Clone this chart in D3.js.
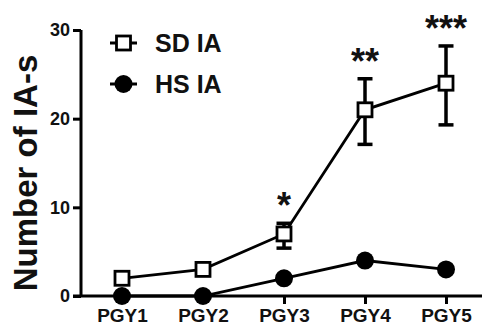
<!DOCTYPE html>
<html>
<head>
<meta charset="utf-8">
<script src="https://cdn.jsdelivr.net/npm/d3@7"></script>
<style>
  body { margin: 0; background: #fff; }
  svg text { font-family: "Liberation Sans", Arial, sans-serif; font-weight: bold; fill: #111; }
</style>
</head>
<body>
<div id="chart"></div>
<script>
// svg dimensions
let svgWidth = 482,
  svgHeight = 329;

// data
let categories = ["PGY1", "PGY2", "PGY3", "PGY4", "PGY5"];
let sdValues = [2, 3, 7, 21, 24];
let sdErrLow = [2, 3, 5.4, 17.1, 19.3];
let sdErrHigh = [2, 3, 8.2, 24.5, 28.2];
let hsValues = [0, 0, 2, 4, 3];
let stars = ["", "", "*", "**", "***"];
let yTicks = [0, 10, 20, 30];

let margin = { top: 30, right: 0, bottom: 33, left: 81 };

let svg = d3
  .select("#chart")
  .append("svg")
  .attr("width", svgWidth)
  .attr("height", svgHeight);

// scales
let xScale = d3
  .scalePoint()
  .domain(categories)
  .range([122, 446]);

let yScale = d3
  .scaleLinear()
  .domain([0, 30])
  .range([296, 30]);

// y axis
let yAxis = svg
  .append("g")
  .attr("transform", `translate(${margin.left}, 0)`)
  .call(d3.axisLeft(yScale).tickValues(yTicks).tickSize(8).tickPadding(3));
yAxis.select(".domain").attr("stroke-width", 3).attr("d", `M0,${yScale(30)}V${yScale(0)}`);
yAxis.selectAll(".tick line").attr("stroke-width", 3);
yAxis.selectAll(".tick text").style("font-size", "18px");

// x axis
let xAxis = svg
  .append("g")
  .attr("transform", `translate(0, ${yScale(0)})`)
  .call(d3.axisBottom(xScale).tickSize(8).tickPadding(5));
xAxis.select(".domain").attr("stroke-width", 3).attr("d", `M${margin.left - 8},0H${svgWidth}`);
xAxis.selectAll(".tick line").attr("stroke-width", 3);
xAxis.selectAll(".tick text").style("font-size", "19px");

// y axis label
svg
  .append("text")
  .attr("transform", `translate(37, ${(yScale(0) + yScale(30)) / 2 + 10}) rotate(-90)`)
  .attr("text-anchor", "middle")
  .style("font-size", "33px")
  .text("Number of IA-s");

let lineGen = d3
  .line()
  .x((d, i) => xScale(categories[i]))
  .y((d) => yScale(d));

// HS IA line
svg
  .append("path")
  .datum(hsValues)
  .attr("d", lineGen)
  .attr("fill", "none")
  .attr("stroke", "#000")
  .attr("stroke-width", 2.8);

// SD IA error bars
let errGroup = svg.append("g");
categories.forEach((c, i) => {
  if (sdErrHigh[i] - sdErrLow[i] < 0.5) return;
  let x = xScale(c);
  errGroup.append("line")
    .attr("x1", x).attr("x2", x)
    .attr("y1", yScale(sdErrLow[i])).attr("y2", yScale(sdErrHigh[i]))
    .attr("stroke", "#000").attr("stroke-width", 3.5);
  [sdErrLow[i], sdErrHigh[i]].forEach((v) => {
    errGroup.append("line")
      .attr("x1", x - 7.5).attr("x2", x + 7.5)
      .attr("y1", yScale(v)).attr("y2", yScale(v))
      .attr("stroke", "#000").attr("stroke-width", 3.5);
  });
});

// SD IA line
svg
  .append("path")
  .datum(sdValues)
  .attr("d", lineGen)
  .attr("fill", "none")
  .attr("stroke", "#000")
  .attr("stroke-width", 2.8);

svg
  .selectAll(".hsDot")
  .data(hsValues)
  .enter()
  .append("circle")
  .classed("hsDot", true)
  .attr("cx", (d, i) => xScale(categories[i]))
  .attr("cy", (d) => yScale(d))
  .attr("r", 9)
  .attr("fill", "#000");

svg
  .selectAll(".sdSquare")
  .data(sdValues)
  .enter()
  .append("rect")
  .classed("sdSquare", true)
  .attr("x", (d, i) => xScale(categories[i]) - 7)
  .attr("y", (d) => yScale(d) - 7)
  .attr("width", 14)
  .attr("height", 14)
  .attr("fill", "#fff")
  .attr("stroke", "#000")
  .attr("stroke-width", 2.8);

// significance stars
svg
  .selectAll(".star")
  .data(stars)
  .enter()
  .append("text")
  .classed("star", true)
  .attr("x", (d, i) => xScale(categories[i]))
  .attr("y", (d, i) => yScale(sdErrHigh[i]) - 5)
  .attr("text-anchor", "middle")
  .style("font-size", "36px")
  .text((d) => d);

// legend
let legendItems = [
  { label: "SD IA", y: 43, type: "square" },
  { label: "HS IA", y: 84, type: "circle" },
];
legendItems.forEach((item) => {
  svg.append("line")
    .attr("x1", 110).attr("x2", 137)
    .attr("y1", item.y).attr("y2", item.y)
    .attr("stroke", "#000").attr("stroke-width", 3);
  if (item.type === "square") {
    svg.append("rect")
      .attr("x", 116.5).attr("y", item.y - 7)
      .attr("width", 14).attr("height", 14)
      .attr("fill", "#fff").attr("stroke", "#000").attr("stroke-width", 2.8);
  } else {
    svg.append("circle")
      .attr("cx", 123.5).attr("cy", item.y).attr("r", 9).attr("fill", "#000");
  }
  svg.append("text")
    .attr("x", 155)
    .attr("y", item.y + 9)
    .style("font-size", "25px")
    .text(item.label);
});
</script>
</body>
</html>
